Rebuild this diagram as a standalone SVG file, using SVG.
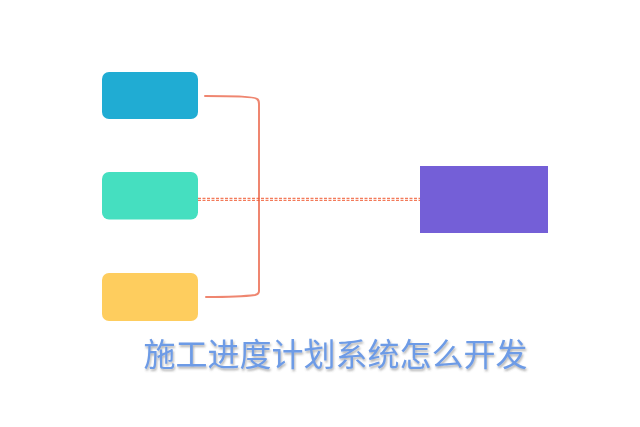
<svg xmlns="http://www.w3.org/2000/svg" width="640" height="427" viewBox="0 0 640 427">
<defs>
<style>
.bracket{fill:none;stroke:#ef8670;stroke-width:2;stroke-linecap:round}
.dash{fill:none;stroke:#f05a32;stroke-width:1;stroke-dasharray:3 1.5}
.title{font-family:"Noto Sans CJK SC","Noto Sans",sans-serif;font-size:32px;fill:#6d9be6}
</style>
<filter id="sh" x="-10%" y="-30%" width="120%" height="160%">
<feDropShadow dx="1" dy="2" stdDeviation="1.2" flood-color="#555" flood-opacity="0.45"/>
</filter>
</defs>
<rect width="640" height="427" fill="#ffffff"/>
<g id="connectors">
<path class="bracket" d="M205,96 Q255,96 257,99 Q259,100 259,104 L259,291 Q259,294 255,295 Q240,297 206,297"/>
<line class="dash" x1="198" y1="198.3" x2="420" y2="198.3"/>
<line class="dash" x1="198" y1="200.3" x2="420" y2="200.3"/>
</g>
<g id="node-top"><rect x="102" y="72" width="96" height="47" rx="7" fill="#20acd3"/></g>
<g id="node-middle"><rect x="102" y="172" width="96" height="47.5" rx="7" fill="#45dfc0"/></g>
<g id="node-bottom"><rect x="102" y="273" width="96" height="48" rx="7" fill="#fecd5e"/></g>
<g id="node-right"><rect x="420" y="166" width="128" height="67" fill="#745fd7"/></g>
<g id="title"><text class="title" x="335.5" y="366" text-anchor="middle" filter="url(#sh)">施工进度计划系统怎么开发</text></g>
</svg>
